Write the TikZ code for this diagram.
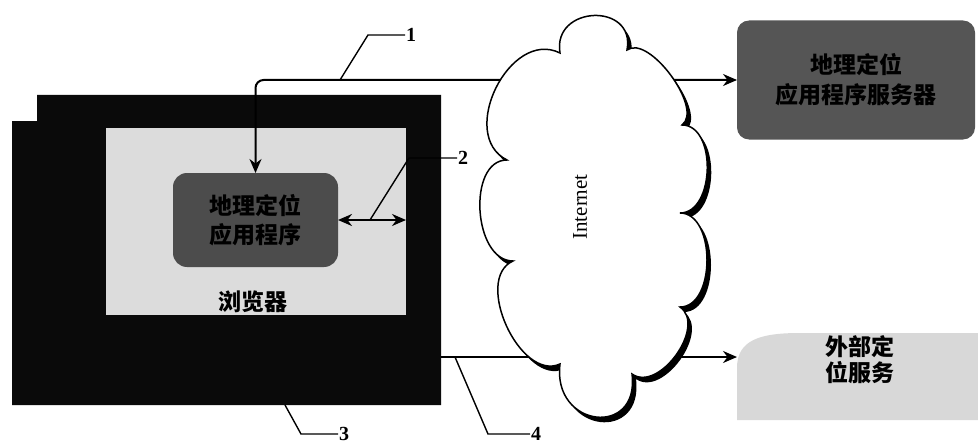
\documentclass[tikz,border=0pt]{standalone}
\usepackage{fontspec}
\setmainfont{Liberation Serif}
\newfontfamily\cjk{Noto Sans CJK SC}
\usetikzlibrary{arrows.meta}
\definecolor{framebk}{HTML}{0A0A0A}
\definecolor{browserfill}{HTML}{DCDCDC}
\definecolor{appfill}{HTML}{4C4C4C}
\definecolor{srvfill}{HTML}{555555}
\definecolor{extfill}{HTML}{D8D8D8}
\begin{document}
\begin{tikzpicture}[x=1pt,y=-1pt,
  tip/.tip={Stealth[length=14pt,width=12pt]},
  arr/.style={line width=2pt,-tip},
  dbl/.style={line width=2pt,tip-tip},
  leader/.style={line width=1.4pt},
  num/.style={font=\fontsize{20}{20}\selectfont\bfseries, anchor=west, inner sep=1pt},
  cjktext/.style={font=\fontsize{22}{30}\selectfont\cjk\bfseries, align=center, text=black},
  cloudshadow/.style={fill=black},
  cloudbody/.style={fill=white, draw=black, line width=1.5pt},
  box/.style={inner sep=0pt, outer sep=0pt}
]
\useasboundingbox[fill=white] (0,0) rectangle (978,444);

% browser frame (two stacked windows)
\fill[framebk] (37,95) -- (441,95) -- (441,405) -- (12,405) -- (12,121) -- (37,121) -- cycle;
\node[box, fill=browserfill, minimum width=300pt, minimum height=187pt] (browser) at (256,221.5) {};
\node[cjktext, font=\fontsize{23}{23}\selectfont\cjk\bfseries] (blabel) at (253,302) {浏览器};

% geolocation application
\node[box, fill=appfill, rounded corners=14pt, minimum width=165pt, minimum height=94pt] (app) at (255.5,220) {};
\node[cjktext, font=\fontsize{23}{29}\selectfont\cjk\bfseries] (apptxt) at (app.center) {\color{black}地理定位\\\color{black}应用程序};

% server box
\node[box, fill=srvfill, rounded corners=12pt, minimum width=238pt, minimum height=119pt] (server) at (856,80) {};
\node[cjktext, font=\fontsize{23}{30}\selectfont\cjk\bfseries] (srvtxt) at (server.center) {\color{black}地理定位\\\color{black}应用程序服务器};

% external location service
\fill[extfill] (737,420) -- (737,368) .. controls (737,340) and (760,333) .. (800,333)
  -- (978,333) -- (978,420) -- cycle;
\node[cjktext, font=\fontsize{23}{26}\selectfont\cjk\bfseries] (ext) at (860,360) {外部定\\位服务};
\coordinate (extw) at (737,357);
\coordinate (f4) at (441,357);

% connectors
\draw[dbl, rounded corners=8pt] (app.north) |- (server.west);
\draw[dbl] (app.east) -- (browser.east |- app.east);
\draw[arr] (f4) -- (extw);

% leader lines
\coordinate (l1a) at (340,80);
\coordinate (l1b) at (368,35);
\coordinate (l1c) at (405,35);
\draw[leader] (l1a) -- (l1b) -- (l1c);
\node[num] (n1) at (l1c) {1};

\coordinate (l2a) at (370,220);
\coordinate (l2b) at (409,158);
\coordinate (l2c) at (457,158);
\draw[leader] (l2a) -- (l2b) -- (l2c);
\node[num] (n2) at (l2c) {2};

\coordinate (l3a) at (285,405);
\coordinate (l3b) at (301,434);
\coordinate (l3c) at (338,434);
\draw[leader] (l3a) -- (l3b) -- (l3c);
\node[num] (n3) at (l3c) {3};

\coordinate (l4a) at (455,357);
\coordinate (l4b) at (488,434);
\coordinate (l4c) at (530,434);
\draw[leader] (l4a) -- (l4b) -- (l4c);
\node[num] (n4) at (l4c) {4};

% Internet cloud with shadow
\foreach \dx/\dy/\st in {4/5/cloudshadow, 0/0/cloudbody} {
  \path[\st, shift={(\dx,\dy)}]
    (560,53) .. controls (552,5) and (636,2) .. (627,50)
    .. controls (649,34) and (704,109) .. (682,125)
    .. controls (717,125) and (715,213) .. (680,213)
    .. controls (716,213) and (716,307) .. (680,307)
    .. controls (707,326) and (659,393) .. (632,374)
    .. controls (640,438) and (552,428) .. (560,364)
    .. controls (520,382) and (473,279) .. (513,261)
    .. controls (473,261) and (467,160) .. (507,160)
    .. controls (457,135) and (510,28) .. (560,53) -- cycle;
}
\node[rotate=90, font=\fontsize{21}{21}\selectfont] (inet) at (580,207) {Internet};
\end{tikzpicture}
\end{document}
